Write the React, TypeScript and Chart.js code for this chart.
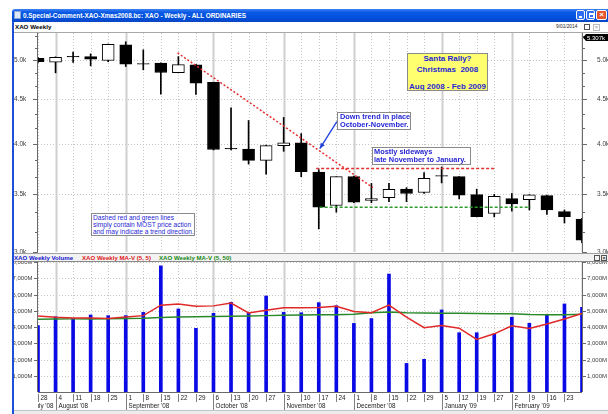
import React, { useEffect, useRef } from "react";
import { Chart, registerables } from "chart.js";

Chart.register(...registerables);

// ---------------- data ----------------
const weekDays = ["28","4","11","18","25","1","8","15","22","29","6","13","20","27","3","10","17","24","1","8","15","22","29","5","12","19","27","2","9","16","23","2"];
const monthNames = ["July '08","August '08","September '08","October '08","November '08","December '08","January '09","February '09","March '09"];
const monthStarts = [-3, 1, 5, 10, 14, 18, 23, 27, 31];

const opens  = [5020,4970,5048,5045,4991,5204,4952,4958,4834,4935,4710,3952,3945,3828,3979,4010,3710,3395,3665,3441,3467,3546,3514,3676,3665,3495,3323,3458,3448,3485,3340,3275];
const highs  = [5030,5040,5104,5080,5215,5246,5135,4962,5044,4940,4712,4400,4255,3985,4290,4110,3735,3665,3670,3600,3600,3560,3705,3760,3665,3545,3497,3505,3495,3490,3355,3280];
const lows   = [4965,4830,4965,4921,4975,4912,4869,4565,4830,4560,3935,3935,3790,3690,3921,3665,3190,3335,3420,3420,3430,3430,3505,3605,3455,3293,3293,3345,3355,3315,3240,3075];
const closes = [4975,5035,5040,5010,5210,4943,4944,4835,4938,4700,3940,3945,3828,3980,4010,3715,3380,3665,3425,3458,3545,3505,3650,3670,3490,3295,3478,3408,3493,3355,3295,3095];

const volume  = [4080,4630,4530,4740,4700,4700,4900,7760,5110,3920,4840,5520,4840,5910,4900,4880,5500,5310,4220,4520,7260,1760,2010,5050,3650,3650,3570,4600,4230,4780,5420,5210];
const maShort = [4680,4600,4560,4560,4520,4620,4700,5340,5420,5270,5300,5470,4860,5030,5180,5190,5200,5270,4950,4880,5350,4610,3960,4090,3930,3240,3580,4080,3910,4180,4490,4830];
const maLong  = [4480,4490,4500,4500,4510,4520,4540,4590,4620,4630,4640,4660,4680,4700,4720,4740,4750,4760,4790,4880,4930,4880,4860,4850,4840,4830,4820,4810,4770,4760,4760,4780];

const priceTicks = [3000, 3500, 4000, 4500, 5000];
const priceTickLabels = ["3.0k", "3.5k", "4.0k", "4.5k", "5.0k"];
const volTicks = [1000, 2000, 3000, 4000, 5000, 6000, 7000, 8000];
const volTickLabels = ["1,000M","2,000M","3,000M","4,000M","5,000M","6,000M","7,000M","8,000M"];
const markerValue = 5307;
const markerLabel = "5.307k";

// annotation lines (week index, price)
const downTrend = [{ x: 7.95, y: 5094 }, { x: 19.08, y: 3560 }];
const upperBand = [{ x: 15.85, y: 3745 }, { x: 26, y: 3745 }];
const lowerBand = [{ x: 16.05, y: 3380 }, { x: 28.05, y: 3380 }];
const arrowFrom = { x: 17.03, y: 4243 };
const arrowTo = { x: 16.06, y: 3949 };

const FONT = "'Liberation Sans', Arial, sans-serif";
const NOTE_BLUE = "#2626d4";

function dline(ctx: CanvasRenderingContext2D, x1: number, y1: number, x2: number, y2: number) {
  ctx.beginPath();
  ctx.moveTo(x1, y1);
  ctx.lineTo(x2, y2);
  ctx.stroke();
}

function drawVerticalGrid(chart: any) {
  const { ctx, chartArea: a, scales } = chart;
  const x = scales.x;
  weekDays.forEach((_, i) => {
    const px = Math.round(x.getPixelForValue(i)) + 0.5;
    if (monthStarts.includes(i)) {
      ctx.setLineDash([]);
      ctx.strokeStyle = "#cfcfcf";
      ctx.lineWidth = 2;
    } else {
      ctx.setLineDash([1, 2]);
      ctx.strokeStyle = "#c4c4c4";
      ctx.lineWidth = 1;
    }
    dline(ctx, px, a.top, px, a.bottom);
  });
}

const topGrid = {
  id: "topGrid",
  beforeDatasetsDraw(chart: any) {
    const { ctx, chartArea: a, scales } = chart;
    ctx.save();
    ctx.beginPath();
    ctx.rect(a.left, a.top, a.right - a.left, a.bottom - a.top);
    ctx.clip();
    ctx.setLineDash([1, 2]);
    ctx.strokeStyle = "#c4c4c4";
    ctx.lineWidth = 1;
    priceTicks.forEach((v) => {
      const py = Math.round(scales.y.getPixelForValue(v)) + 0.5;
      dline(ctx, a.left, py, a.right, py);
    });
    drawVerticalGrid(chart);
    ctx.restore();
  },
  afterDraw(chart: any) {
    const { ctx, chartArea: a, scales } = chart;
    const y = scales.y;
    const x = scales.x;
    ctx.save();
    // arrow
    ctx.strokeStyle = "#1f3fe0";
    ctx.fillStyle = "#1f3fe0";
    ctx.lineWidth = 1.3;
    const fx = x.getPixelForValue(arrowFrom.x), fy = y.getPixelForValue(arrowFrom.y);
    const tx = x.getPixelForValue(arrowTo.x), ty = y.getPixelForValue(arrowTo.y);
    dline(ctx, fx, fy, tx, ty);
    const ang = Math.atan2(ty - fy, tx - fx);
    ctx.beginPath();
    ctx.moveTo(tx, ty);
    ctx.lineTo(tx - 6 * Math.cos(ang - 0.4), ty - 6 * Math.sin(ang - 0.4));
    ctx.lineTo(tx - 6 * Math.cos(ang + 0.4), ty - 6 * Math.sin(ang + 0.4));
    ctx.closePath();
    ctx.fill();

    // axes
    ctx.setLineDash([]);
    ctx.strokeStyle = "#6a6a6a";
    ctx.lineWidth = 1;
    dline(ctx, a.left - 0.5, a.top, a.left - 0.5, a.bottom + 2);
    dline(ctx, a.right + 0.5, a.top, a.right + 0.5, a.bottom + 2);
    for (let v = priceTicks[0]; v < 5400; v += 500 / 3) {
      const py = Math.round(y.getPixelForValue(v)) + 0.5;
      dline(ctx, a.left - 3, py, a.left, py);
      dline(ctx, a.right, py, a.right + 3, py);
    }
    ctx.font = `6.5px ${FONT}`;
    ctx.fillStyle = "#404040";
    ctx.textBaseline = "middle";
    priceTicks.forEach((v, k) => {
      const py = Math.round(y.getPixelForValue(v)) + 0.5;
      dline(ctx, a.left - 5, py, a.left, py);
      dline(ctx, a.right, py, a.right + 5, py);
      ctx.textAlign = "left";
      ctx.fillText(priceTickLabels[k], 14, py);
      ctx.fillText(priceTickLabels[k], 597, py);
    });
    // marker label
    const my = y.getPixelForValue(markerValue);
    ctx.fillStyle = "#000";
    ctx.beginPath();
    ctx.moveTo(a.right + 1, my);
    ctx.lineTo(a.right + 4, my - 3.5);
    ctx.lineTo(608, my - 3.5);
    ctx.lineTo(608, my + 3.5);
    ctx.lineTo(a.right + 4, my + 3.5);
    ctx.closePath();
    ctx.fill();
    ctx.fillStyle = "#fff";
    ctx.font = `6px ${FONT}`;
    ctx.fillText(markerLabel, a.right + 5, my + 0.5);
    ctx.restore();
  },
};

const volPlugin = {
  id: "volPlugin",
  beforeDatasetsDraw(chart: any) {
    const { ctx, chartArea: a, scales } = chart;
    ctx.save();
    ctx.beginPath();
    ctx.rect(a.left, a.top, a.right - a.left, a.bottom - a.top);
    ctx.clip();
    ctx.setLineDash([1, 2]);
    ctx.strokeStyle = "#c4c4c4";
    ctx.lineWidth = 1;
    volTicks.forEach((v) => {
      const py = Math.round(scales.y.getPixelForValue(v)) + 0.5;
      dline(ctx, a.left, py, a.right, py);
    });
    drawVerticalGrid(chart);
    ctx.restore();
  },
  afterDraw(chart: any) {
    const { ctx, chartArea: a, scales } = chart;
    const y = scales.y;
    const x = scales.x;
    ctx.save();
    ctx.setLineDash([]);
    ctx.strokeStyle = "#6a6a6a";
    ctx.lineWidth = 1;
    dline(ctx, a.left - 0.5, a.top, a.left - 0.5, a.bottom);
    dline(ctx, a.right + 0.5, a.top, a.right + 0.5, a.bottom);
    dline(ctx, a.left, a.bottom + 0.5, a.right, a.bottom + 0.5);
    ctx.font = `6px ${FONT}`;
    ctx.fillStyle = "#404040";
    ctx.textBaseline = "middle";
    volTicks.forEach((v, k) => {
      const py = Math.round(y.getPixelForValue(v)) + 0.5;
      dline(ctx, a.left - 4, py, a.left, py);
      dline(ctx, a.right, py, a.right + 4, py);
      ctx.textAlign = "left";
      ctx.fillText(volTickLabels[k], 12.5, py);
      ctx.fillText(volTickLabels[k], a.right + 5, py);
    });
    // x axis labels
    ctx.beginPath();
    ctx.rect(a.left, a.bottom + 1, a.right - a.left, 20);
    ctx.clip();
    ctx.strokeStyle = "#808080";
    ctx.fillStyle = "#202020";
    ctx.font = `6.3px ${FONT}`;
    ctx.textAlign = "left";
    weekDays.forEach((d, i) => {
      const px = Math.round(x.getPixelForValue(i)) + 0.5;
      dline(ctx, px, a.bottom + 2, px, a.bottom + 10);
      ctx.fillText(d, px + 2, a.bottom + 6);
    });
    monthStarts.forEach((s, k) => {
      if (s < 0) {
        const nx = Math.round(x.getPixelForValue(monthStarts[k + 1])) + 0.5;
        ctx.textAlign = "right";
        ctx.fillText(monthNames[k], nx - 3, a.bottom + 14);
      } else {
        const px = Math.round(x.getPixelForValue(s)) + 0.5;
        dline(ctx, px, a.bottom + 10, px, a.bottom + 18);
        ctx.textAlign = "left";
        ctx.fillText(monthNames[k], px + 2, a.bottom + 14);
      }
    });
    ctx.restore();
  },
};

export default function App() {
  const topRef = useRef<HTMLCanvasElement>(null);
  const volRef = useRef<HTMLCanvasElement>(null);

  useEffect(() => {
    const bodies = weekDays.map((_, i) => ({ x: i, y: [opens[i], closes[i]] }));
    const wicks = weekDays.map((_, i) => ({ x: i, y: [lows[i], highs[i]] }));
    const bodyColors = weekDays.map((_, i) => (closes[i] >= opens[i] ? "#ffffff" : "#000000"));

    const top = new Chart(topRef.current as HTMLCanvasElement, {
      type: "bar",
      data: {
        datasets: [
          { type: "line", data: downTrend, borderColor: "#e43030", borderDash: [2, 2], borderWidth: 1.5, pointRadius: 0, order: 0 } as any,
          { type: "line", data: upperBand, borderColor: "#e43030", borderDash: [3, 2], borderWidth: 1.5, pointRadius: 0, order: 0 } as any,
          { type: "line", data: lowerBand, borderColor: "#2a9a2a", borderDash: [3, 2], borderWidth: 1.5, pointRadius: 0, order: 0 } as any,
          { type: "bar", data: bodies, backgroundColor: bodyColors, borderColor: "#000", borderWidth: 1, borderSkipped: false, barThickness: 12, grouped: false, order: 1 } as any,
          { type: "bar", data: wicks, backgroundColor: "#000", borderWidth: 0, barThickness: 1, grouped: false, order: 2 } as any,
        ],
      },
      options: {
        responsive: false,
        animation: false,
        events: [],
        layout: { padding: { left: 38, right: 26, top: 0, bottom: 1 } },
        plugins: { legend: { display: false }, tooltip: { enabled: false } },
        scales: {
          x: { type: "linear", min: 0, max: 31, offset: false, display: false, grid: { offset: false } },
          y: { type: "logarithmic", min: 3000, max: 5370, display: false },
        },
      },
      plugins: [topGrid],
    });

    const vol = new Chart(volRef.current as HTMLCanvasElement, {
      type: "bar",
      data: {
        datasets: [
          { type: "line", data: weekDays.map((_, i) => ({ x: i, y: maShort[i] })), borderColor: "#e02828", borderWidth: 1.5, pointRadius: 0, tension: 0, order: 0 } as any,
          { type: "line", data: weekDays.map((_, i) => ({ x: i, y: maLong[i] })), borderColor: "#2a8a2a", borderWidth: 1.5, pointRadius: 0, tension: 0, order: 1 } as any,
          { type: "bar", data: weekDays.map((_, i) => ({ x: i, y: volume[i] })), backgroundColor: "#0a0ae6", barThickness: 3, order: 2 } as any,
        ],
      },
      options: {
        responsive: false,
        animation: false,
        events: [],
        layout: { padding: { left: 38, right: 26, top: 0, bottom: 22 } },
        plugins: { legend: { display: false }, tooltip: { enabled: false } },
        scales: {
          x: { type: "linear", min: 0, max: 31, offset: false, display: false, grid: { offset: false } },
          y: { type: "linear", min: 0, max: 8000, display: false },
        },
      },
      plugins: [volPlugin],
    });

    return () => {
      top.destroy();
      vol.destroy();
    };
  }, []);

  const abs = (l: number, t: number, w: number, h: number, extra: any = {}) => ({
    position: "absolute" as const, left: l, top: t, width: w, height: h, boxSizing: "border-box" as const, ...extra,
  });

  const noteBox = { background: "#fff", border: "1px solid #8a8a8a", color: NOTE_BLUE, fontFamily: FONT, whiteSpace: "pre" as const, overflow: "hidden" };
  const line = (t: number, extra: any = {}) => ({ position: "absolute" as const, left: 0, right: 0, top: t, ...extra });

  return (
    <div style={{ position: "absolute", left: 0, top: 0, width: 608, height: 414, background: "#fff", overflow: "hidden", fontFamily: FONT }}>
      {/* title bar */}
      <div style={abs(12, 9, 600, 13, { background: "linear-gradient(to bottom, #3d82f4 0%, #0a5ae6 25%, #0050dc 70%, #0a46c4 100%)", borderTopLeftRadius: 3 })} />
      <div style={abs(14, 11, 7, 8, { background: "#dfe8f8", border: "1px solid #8aa0d0" })} />
      <div style={abs(23, 9, 300, 13, { color: "#fff", fontWeight: "bold", fontSize: 6.4, lineHeight: "13px", whiteSpace: "pre" })}>0.Special-Comment-XAO-Xmas2008.bc: XAO - Weekly - ALL ORDINARIES</div>
      <div style={abs(576, 10, 9, 10, { background: "#2f6ef2", border: "1px solid #fff", borderRadius: 2 })}>
        <div style={abs(2, 5, 3, 2, { background: "#fff" })} />
      </div>
      <div style={abs(586, 10, 9, 10, { background: "#2f6ef2", border: "1px solid #fff", borderRadius: 2 })}>
        <div style={abs(1.5, 1.5, 5, 5, { border: "1px solid #fff", borderTopWidth: 2 })} />
      </div>
      <div style={abs(596, 10, 11, 10, { background: "#e2542c", border: "1px solid #fff", borderRadius: 2, color: "#fff", fontSize: 8, fontWeight: "bold", lineHeight: "8px", textAlign: "center" })}>×</div>

      {/* window left border */}
      <div style={abs(12, 22, 2, 392, { background: "#1d4fd8", zIndex: 3 })} />

      {/* header row */}
      <div style={abs(14, 22, 594, 11, { background: "#fff", borderBottom: "1px solid #a8a8a8" })} />
      <div style={abs(15, 22, 80, 10, { fontSize: 6.2, fontWeight: "bold", color: "#000", lineHeight: "10px" })}>XAO Weekly</div>
      <div style={abs(556, 22, 26, 10, { fontSize: 4.8, color: "#222", lineHeight: "10px" })}>9/01/2014</div>
      <div style={abs(584, 24, 6, 6, { border: "1px solid #555" })} />
      <div style={abs(593, 24, 7, 7, { border: "1px solid #bbb", color: "#999", fontSize: 6, lineHeight: "5px", textAlign: "center" })}>×</div>

      {/* price chart */}
      <canvas ref={topRef} width={608} height={220} style={{ position: "absolute", left: 0, top: 33, width: 608, height: 220 }} />

      {/* notes */}
      <div style={abs(407, 53, 81, 38, { ...noteBox, background: "#ffff70", fontWeight: "bold", fontSize: 8, textAlign: "center", zIndex: 2 })}>
        <div style={line(-0.5, { lineHeight: "10px" })}>Santa Rally?</div>
        <div style={line(10.5, { lineHeight: "10px" })}>{"Christmas  2008"}</div>
        <div style={line(27.5, { lineHeight: "10px" })}>Aug 2008 - Feb 2009</div>
      </div>
      <div style={abs(337, 112, 74, 18, { ...noteBox, fontWeight: "bold", fontSize: 7.4, lineHeight: "8.3px", paddingLeft: 2, zIndex: 2 })}>{"Down trend in place\nOctober-November."}</div>
      <div style={abs(372, 147, 99, 18, { ...noteBox, fontWeight: "bold", fontSize: 7.4, lineHeight: "8.3px", paddingLeft: 1, zIndex: 2 })}>{"Mostly sideways\nlate November to January."}</div>
      <div style={abs(91, 213, 104, 23, { ...noteBox, fontSize: 6.6, lineHeight: "7.2px", paddingLeft: 1, zIndex: 2 })}>{"Dashed red and green lines\nsimply contain MOST price action\nand may indicate a trend direction."}</div>

      {/* legend bar */}
      <div style={abs(14, 253, 594, 9, { background: "#f2f2f2", borderTop: "1px solid #a0a0a0", borderBottom: "1px solid #8a8a8a", zIndex: 2 })} />
      <div style={abs(14, 253, 400, 9, { fontSize: 6.1, fontWeight: "bold", lineHeight: "9px", whiteSpace: "pre", zIndex: 2 })}>
        <span style={{ color: "#1414d0" }}>XAO Weekly Volume</span>
        <span style={{ position: "absolute", left: 68, color: "#e01818" }}>XAO Weekly MA-V (5, 5)</span>
        <span style={{ position: "absolute", left: 145, color: "#168a16" }}>XAO Weekly MA-V (5, 50)</span>
      </div>
      <div style={abs(594, 255, 6, 6, { border: "1px solid #555", zIndex: 2 })} />
      <div style={abs(601, 255, 6, 6, { border: "1px solid #555", fontSize: 6, lineHeight: "4px", textAlign: "center", zIndex: 2 })}>×</div>

      {/* volume chart */}
      <canvas ref={volRef} width={608} height={152} style={{ position: "absolute", left: 0, top: 262, width: 608, height: 152 }} />

      {/* scrollbar */}
      <div style={abs(14, 410, 594, 4, { background: "#ececec", borderTop: "1px solid #c4c4c4" })} />
    </div>
  );
}
